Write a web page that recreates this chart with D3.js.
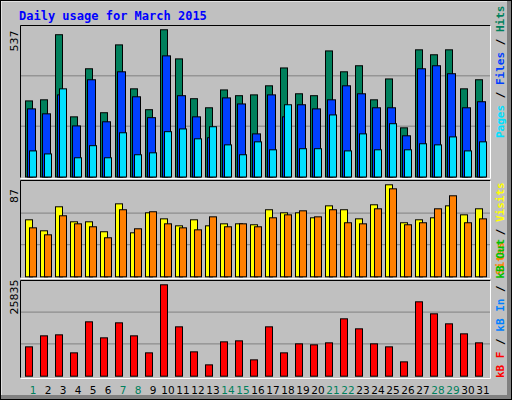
<!DOCTYPE html><html><head><meta charset="utf-8">
<script src="https://cdn.jsdelivr.net/npm/d3@7"></script>
<style>body{margin:0;background:#fff}svg{display:block}</style></head><body>
<script>
const days=d3.range(1,32);
const weekends=[1,7,8,14,15,21,22,28,29];
const hits=[277,281,518,219,394,234,481,321,245,536,430,285,252,317,296,299,332,397,303,296,459,383,405,281,357,179,463,445,463,321,354];
const files=[248,230,299,186,354,201,383,292,216,441,296,219,143,288,266,157,299,219,263,248,281,332,303,252,252,150,394,405,376,252,274];
const pages=[95,84,321,70,114,70,161,81,88,165,175,139,183,117,81,128,99,263,103,103,226,95,157,99,194,99,121,117,146,95,128];
const visits=[53.9,43.5,66.2,52,52,42.6,69,41.6,60.5,54.8,48.2,53.9,48.2,50.1,50.1,49.2,63.4,60.5,60.5,55.8,67.1,63.4,54.8,68.1,87,51.1,53.9,55.8,67.1,58.6,64.3];
const sites=[46.3,39.7,57.7,50.1,47.3,36.9,63.4,45.4,61.5,50.1,46.3,44.4,56.7,47.3,50.1,47.3,55.8,58.6,62.4,56.7,63.4,51.1,50.1,64.3,83.2,49.2,51.1,64.3,76.6,51.1,54.8];
const kbytes=[8297,11409,11692,6600,15369,10843,15086,11409,6600,25835,13955,6883,3206,9712,9994,4620,13955,6600,9146,8863,9429,16218,13389,9146,8297,4054,21026,17632,14803,11975,9429];
const maxLabels=["537","87","25835"];

const W=512,H=400;
const svg=d3.select("body").append("svg").attr("width",W).attr("height",H);
svg.append("rect").attr("width",W).attr("height",H).attr("fill","#c0c0c0");
// 3D border
svg.append("path").attr("d","M0.5,399.5V0.5H511.5").attr("stroke","#fff").attr("stroke-width",2).attr("fill","none");
svg.append("path").attr("d","M1,397H509V1").attr("stroke","#808080").attr("stroke-width",4).attr("fill","none");
svg.append("rect").attr("x",0.5).attr("y",0.5).attr("width",511).attr("height",399).attr("fill","none").attr("stroke","#000");

svg.append("text").attr("x",19).attr("y",20).text("Daily usage for March 2015")
 .attr("font-family","DejaVu Sans Mono").attr("font-weight","bold").attr("font-size",12).attr("fill","#0000ff");

const x=d3.scaleLinear().domain([1,31]).range([25,475]);
const panels=[{t:25,b:177},{t:180,b:277},{t:280,b:377}];
panels.forEach(p=>{
  svg.append("path").attr("d",`M20.5,${p.b+0.5}V${p.t+0.5}H490.5`).attr("stroke","#000").attr("fill","none");
  svg.append("path").attr("d",`M20.5,${p.b+1.5}H490.5V${p.t+0.5}`).attr("stroke","#fff").attr("fill","none");
});
function grid(y0,y1){const h=y0-y1;[1,2].forEach(k=>svg.append("line").attr("x1",21).attr("x2",490).attr("y1",y0-h*k/3).attr("y2",y0-h*k/3).attr("stroke","#808080"));}
const y1=d3.scaleLinear().domain([0,537]).range([176.5,29]);
const y2=d3.scaleLinear().domain([0,87]).range([276.3,184.3]);
const y3=d3.scaleLinear().domain([0,25835]).range([375.7,284.3]);
grid(176.5,25.5);grid(276.3,181.5);grid(375.7,280.3);

function bars(data,y,dx,w,col){
  svg.append("g").selectAll("rect").data(data).join("rect")
   .attr("x",(d,i)=>x(days[i])+dx+0.5).attr("y",d=>y(d)+0.5).attr("width",w).attr("height",d=>y(0)-y(d))
   .attr("fill",col).attr("stroke","#000");
}
bars(hits,y1,0,7,"#00805c");
bars(files,y1,2,8,"#0040ff");
bars(pages,y1,4,7,"#00e0ff");
bars(visits,y2,0,7,"#ffff00");
bars(sites,y2,4,7,"#ff8000");
bars(kbytes,y3,0,7,"#ff0000");

svg.append("g").selectAll("text").data(days).join("text")
 .attr("x",d=>x(d)+8).attr("y",394).attr("text-anchor","middle").text(d=>d)
 .attr("font-family","DejaVu Sans").attr("font-size",10.5)
 .attr("fill",d=>weekends.includes(d)?"#00805c":"#000");

[[41,maxLabels[0]],[196,maxLabels[1]],[297,maxLabels[2]]].forEach(([cy,t])=>{
  svg.append("text").attr("transform",`translate(18,${cy}) rotate(-90)`).attr("text-anchor","middle").text(t)
   .attr("font-family","DejaVu Sans").attr("font-size",11).attr("fill","#000");
});
function rlabel(yb,parts){
  const t=svg.append("text").attr("transform",`translate(504,${yb}) rotate(-90)`)
   .attr("font-family","DejaVu Sans Mono").attr("font-weight","bold").attr("font-size",11);
  parts.forEach(([s,c])=>t.append("tspan").text(s).attr("fill",c));
}
rlabel(138,[["Pages","#00e0ff"],[" / ","#000"],["Files","#0040ff"],[" / ","#000"],["Hits","#00805c"]]);
rlabel(275,[["Sites","#ff8000"],[" / ","#000"],["Visits","#ffff00"]]);
rlabel(378,[["kB F","#ff0000"],[" / ","#000"],["kB In","#0080ff"],[" / ","#000"],["kB Out","#00c000"]]);
</script></body></html>
